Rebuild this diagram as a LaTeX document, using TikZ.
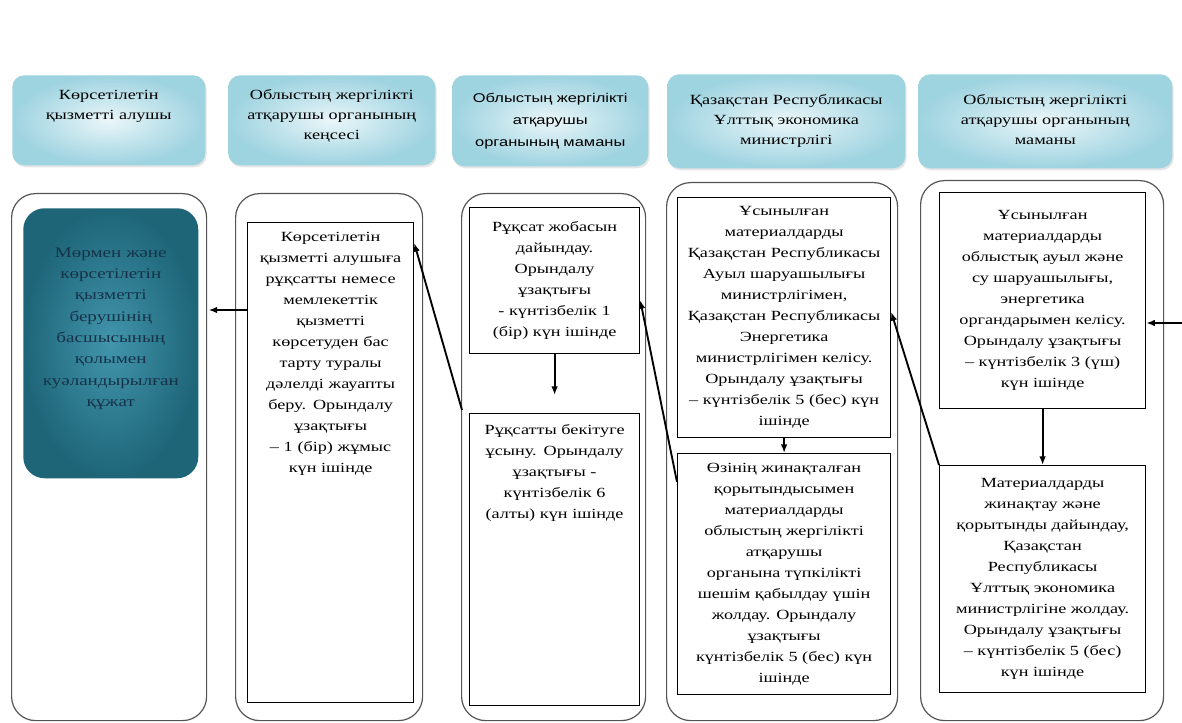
\documentclass[tikz,border=0pt]{standalone}
\usepackage{fontspec}
\setmainfont[FakeStretch=1.3]{Liberation Serif}
\newfontfamily\hsans[FakeStretch=1.3]{Liberation Sans}
\usetikzlibrary{arrows.meta,calc,shadows}
\definecolor{hin}{HTML}{EAF6F9}
\definecolor{hout}{HTML}{9ED3E0}
\definecolor{tin}{HTML}{4295AC}
\definecolor{tout}{HTML}{1E6578}
\definecolor{ttxt}{HTML}{16324A}
\definecolor{ln}{HTML}{555555}
\tikzset{
  wd/.style={minimum width=#1*0.75pt},
  ht/.style={minimum height=#1*0.75pt},
  hd/.style={anchor=north west,rounded corners=9pt,inner color=hin,outer color=hout,
    drop shadow={opacity=.2,shadow xshift=1pt,shadow yshift=-1.5pt},
    align=center,inner sep=0pt,font=\fontsize{10.5}{15}\selectfont},
  lane/.style={anchor=north west,draw=ln,line width=.9pt,rounded corners=18pt,inner sep=0pt},
  box/.style={anchor=north west,draw,line width=.9pt,fill=white,align=center,inner sep=2pt,
    font=\fontsize{10.5}{15.75}\selectfont},
  res/.style={anchor=north west,rounded corners=16pt,inner color=tin,outer color=tout,
    text=ttxt,align=center,inner sep=2pt,font=\fontsize{11}{16}\selectfont},
  ar/.style={-{Latex[length=6.5pt,width=5pt]},line width=1.4pt},
}
\begin{document}
\begin{tikzpicture}[x=0.75pt,y=-0.75pt]
\useasboundingbox (0,0) rectangle (1182,723);
\fill[white] (0,0) rectangle (1182,723);
\node[hd,text width=144.75pt,text height=18pt,text depth=49.5pt] (h1) at (12,75) {Көрсетілетін\\қызметті алушы};
\node[hd,text width=155.25pt,text height=18pt,text depth=49.5pt] (h2) at (228,75) {Облыстың жергілікті\\атқарушы органының\\кеңсесі};
\node[hd,text width=147pt,text height=20.25pt,text depth=48pt,font=\hsans\fontsize{9.5}{16.5}\selectfont] (h3) at (452,75) {Облыстың жергілікті\\атқарушы\\органының маманы};
\node[hd,text width=178.5pt,text height=22.5pt,text depth=48pt] (h4) at (667,74) {Қазақстан Республикасы\\Ұлттық экономика\\министрлігі};
\node[hd,text width=190.5pt,text height=22.5pt,text depth=48pt] (h5) at (918,74) {Облыстың жергілікті\\атқарушы органының\\маманы};
\node[lane,wd=195,ht=527] (l1) at (11,193) {};
\node[lane,wd=187,ht=527] (l2) at (235,193) {};
\node[lane,wd=184,ht=527] (l3) at (461,193) {};
\node[lane,wd=231,ht=538] (l4) at (666,182) {};
\node[lane,wd=243,ht=540] (l5) at (920,180) {};
\node[res,text width=127.25pt,text height=34.75pt,text depth=163.75pt] (a) at (23,208) {Мөрмен және\\көрсетілетін\\қызметті\\берушінің\\басшысының\\қолымен\\куәландырылған\\құжат};
\node[box,text width=120.5pt,text height=12.25pt,text depth=343.75pt] (b) at (247,222) {Көрсетілетін\\қызметті алушыға\\рұқсатты немесе\\мемлекеттік\\қызметті\\көрсетуден бас\\тарту туралы\\дәлелді жауапты\\беру. Орындалу\\ұзақтығы\\– 1 (бір) жұмыс\\күн ішінде};
\node[box,wd=170,ht=146] (c1) at (469,207) {Рұқсат жобасын\\дайындау.\\Орындалу\\ұзақтығы\\- күнтізбелік 1\\(бір) күн ішінде};
\node[box,text width=123.5pt,text height=13.75pt,text depth=201.25pt] (c2) at (469,413) {Рұқсатты бекітуге\\ұсыну. Орындалу\\ұзақтығы -\\күнтізбелік 6\\(алты) күн ішінде};
\node[box,wd=213,ht=240] (d1) at (677,197) {Ұсынылған\\материалдарды\\Қазақстан Республикасы\\Ауыл шаруашылығы\\министрлігімен,\\Қазақстан Республикасы\\Энергетика\\министрлігімен келісу.\\Орындалу ұзақтығы\\– күнтізбелік 5 (бес) күн\\ішінде};
\node[box,wd=213,ht=241] (d2) at (677,453) {Өзінің жинақталған\\қорытындысымен\\материалдарды\\облыстың жергілікті\\атқарушы\\органына түпкілікті\\шешім қабылдау үшін\\жолдау. Орындалу\\ұзақтығы\\күнтізбелік 5 (бес) күн\\ішінде};
\node[box,wd=206,ht=216] (e1) at (939,192) {Ұсынылған\\материалдарды\\облыстық ауыл және\\су шаруашылығы,\\энергетика\\органдарымен келісу.\\Орындалу ұзақтығы\\– күнтізбелік 3 (үш)\\күн ішінде};
\node[box,wd=206,ht=227] (e2) at (939,465) {Материалдарды\\жинақтау және\\қорытынды дайындау,\\Қазақстан\\Республикасы\\Ұлттық экономика\\министрлігіне жолдау.\\Орындалу ұзақтығы\\– күнтізбелік 5 (бес)\\күн ішінде};
\coordinate (in) at (1182,323);
\draw[ar] (in) -- (e1.east |- in);
\draw[ar] (e1.south) -- (e2.north);
\draw[ar] (e2.north west) -- ($(d1.north east)+(0,115)$);
\draw[ar] (d1.south) -- (d2.north);
\draw[ar] ($(d2.north west)+(0,29)$) -- ($(c1.north east)+(0,93)$);
\draw[ar] (c1.south) -- ($(c2.north)+(0,-18)$);
\draw[ar] ($(c2.north west)+(-7,-3)$) -- ($(b.north east)+(0,21)$);
\draw[ar] ($(b.north west)+(0,88)$) -- ($(a.north east)+(10,102)$);
\end{tikzpicture}
\end{document}
